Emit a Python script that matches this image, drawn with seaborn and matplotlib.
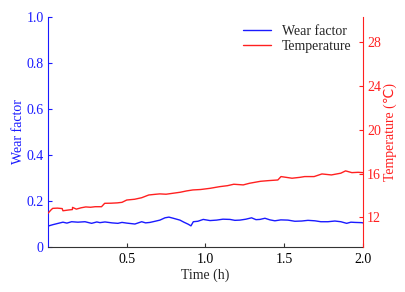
import numpy as np
import pandas as pd
import matplotlib
matplotlib.use("Agg")
import matplotlib.pyplot as plt
import seaborn as sns

# wear factor trace (time in h)
wear_t = [0.0, 0.03, 0.065, 0.095, 0.12, 0.15, 0.19, 0.235, 0.277, 0.31, 0.33, 0.362,
          0.406, 0.444, 0.47, 0.50, 0.552, 0.595, 0.62, 0.648, 0.68, 0.711, 0.743, 0.768,
          0.796, 0.838, 0.863, 0.891, 0.908, 0.923, 0.952, 0.986, 1.029, 1.071, 1.111,
          1.156, 1.187, 1.219, 1.257, 1.293, 1.321, 1.346, 1.378, 1.41, 1.441, 1.479,
          1.524, 1.568, 1.611, 1.651, 1.695, 1.733, 1.778, 1.822, 1.86, 1.897, 1.924,
          1.949, 1.992, 2.0]
wear = [0.091, 0.097, 0.103, 0.108, 0.104, 0.110, 0.108, 0.110, 0.103, 0.109, 0.106, 0.109,
        0.105, 0.103, 0.107, 0.104, 0.100, 0.110, 0.105, 0.107, 0.112, 0.117, 0.127, 0.130,
        0.125, 0.117, 0.108, 0.099, 0.092, 0.110, 0.112, 0.120, 0.115, 0.117, 0.121,
        0.120, 0.116, 0.117, 0.121, 0.127, 0.119, 0.120, 0.125, 0.118, 0.114, 0.118,
        0.117, 0.112, 0.113, 0.116, 0.114, 0.110, 0.110, 0.113, 0.110, 0.103, 0.108,
        0.107, 0.106, 0.105]

# temperature trace (degC)
temp_t = [0.0, 0.02, 0.03, 0.06, 0.09, 0.095, 0.13, 0.155, 0.156, 0.18, 0.21, 0.24,
          0.27, 0.30, 0.34, 0.36, 0.40, 0.44, 0.47, 0.50, 0.55, 0.595, 0.64, 0.68,
          0.71, 0.75, 0.795, 0.84, 0.88, 0.92, 0.97, 1.03, 1.09, 1.14, 1.18, 1.24,
          1.28, 1.35, 1.40, 1.46, 1.48, 1.55, 1.60, 1.63, 1.69, 1.74, 1.80, 1.86,
          1.89, 1.93, 1.97, 2.0]
temp = [12.38, 12.70, 12.83, 12.85, 12.81, 12.61, 12.68, 12.72, 12.92, 12.76, 12.88, 12.96,
        12.93, 12.98, 12.98, 13.29, 13.30, 13.33, 13.38, 13.59, 13.66, 13.80, 14.05, 14.11,
        14.15, 14.12, 14.21, 14.30, 14.42, 14.51, 14.55, 14.66, 14.81, 14.90, 15.03, 14.97,
        15.12, 15.30, 15.36, 15.42, 15.73, 15.58, 15.66, 15.73, 15.73, 15.97, 15.88, 16.04,
        16.25, 16.09, 16.12, 16.09]

wear_df = pd.DataFrame({"t": wear_t, "v": wear})
temp_df = pd.DataFrame({"t": temp_t, "v": temp})

sns.set_style("ticks")
plt.rcParams['font.family'] = ['Liberation Serif', 'DejaVu Sans']
plt.rcParams['font.size'] = 10

blue = "#1a1aff"
red = "#ff2020"

fig = plt.figure(figsize=(4.05, 2.92), dpi=100)
ax = fig.add_axes([0.1185, 0.154, 0.7775, 0.788])
ax2 = ax.twinx()

sns.lineplot(data=wear_df, x="t", y="v", ax=ax, color=blue, lw=1.0, label="Wear factor", legend=False)
sns.lineplot(data=temp_df, x="t", y="v", ax=ax2, color=red, lw=1.0, label="Temperature", legend=False)

ax.set_xlim(0, 2.0)
ax.set_ylim(0, 1.0)
ax2.set_ylim(9.3, 30.3)
ax.set_xticks([0.5, 1.0, 1.5, 2.0])
ax.set_xticklabels(["0.5", "1.0", "1.5", "2.0"])
ax.set_yticks([0, 0.2, 0.4, 0.6, 0.8, 1.0])
ax.set_yticklabels(["0", "0.2", "0.4", "0.6", "0.8", "1.0"])
ax2.set_yticks([12, 16, 20, 24, 28])

ax.set_xlabel("Time (h)", fontsize=10, labelpad=2)
ax.set_ylabel("Wear factor", color=blue, fontsize=10, labelpad=1)
ax2.set_ylabel("Temperature (\u2103)", color=red, fontsize=10, labelpad=2)

ax.tick_params(axis="x", direction="in", length=3, colors="#333333", labelcolor="black", labelsize=10, pad=4)
ax.tick_params(axis="y", direction="in", length=3, colors=blue, labelsize=10, pad=3)
ax2.tick_params(axis="y", direction="in", length=3, colors=red, labelsize=10, pad=3)

for a in (ax, ax2):
    a.spines["top"].set_visible(False)
ax.spines["right"].set_visible(False)
ax2.spines["left"].set_visible(False)
ax2.spines["bottom"].set_visible(False)
ax.spines["left"].set_color(blue)
ax.spines["bottom"].set_color("#333333")
ax2.spines["right"].set_color(red)

h1, l1 = ax.get_legend_handles_labels()
h2, l2 = ax2.get_legend_handles_labels()
ax2.legend(h1 + h2, l1 + l2, loc="upper right", bbox_to_anchor=(0.99, 1.0), frameon=False,
           fontsize=10, handlelength=2.0, labelspacing=0.1, borderaxespad=0.2)

fig.savefig("out.png", dpi=100)
